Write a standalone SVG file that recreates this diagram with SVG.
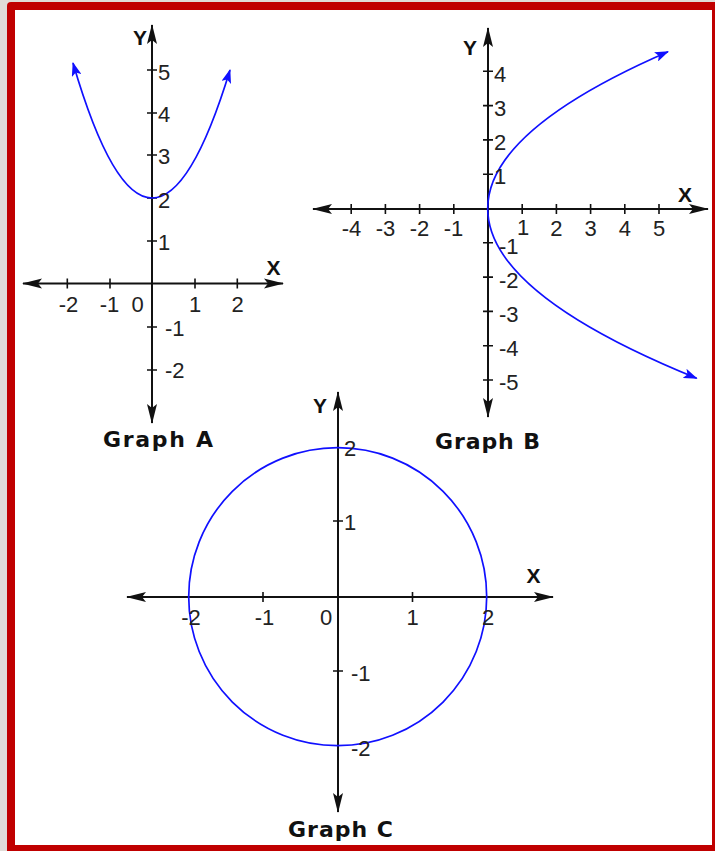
<svg xmlns="http://www.w3.org/2000/svg" width="715" height="851" viewBox="0 0 715 851">
<style>
.ax{stroke:#111;stroke-width:2;fill:none;marker-start:url(#ah);marker-end:url(#ah)}
.tk{stroke:#111;stroke-width:1.6;fill:none}
.cv{stroke:#1010ff;stroke-width:1.7;fill:none}
.n{font-family:"Liberation Sans",Arial,sans-serif;font-size:22px;fill:#222}
.m{text-anchor:middle}
.xy{font-family:"Liberation Sans",Arial,sans-serif;font-size:21px;font-weight:bold;fill:#111;text-anchor:middle}
.t{font-family:"DejaVu Sans",Verdana,sans-serif;font-size:22px;font-weight:bold;fill:#111}
</style>
<defs>
<marker id="ah" viewBox="0 0 20 12" refX="19" refY="6" markerWidth="20" markerHeight="12" markerUnits="userSpaceOnUse" orient="auto-start-reverse">
<path d="M0,1 L20,6 L0,11 L4,6 z" fill="#111"/>
</marker>
<marker id="bh" viewBox="0 0 14 10" refX="13" refY="5" markerWidth="14" markerHeight="10" markerUnits="userSpaceOnUse" orient="auto-start-reverse">
<path d="M0,0 L14,5 L0,10 L3,5 z" fill="#1010ff"/>
</marker>
</defs>
<rect x="0" y="0" width="715" height="851" fill="#e0dcd8"/>
<rect x="7" y="2" width="712" height="853" rx="4" fill="#c00000"/>
<rect x="15" y="10" width="697" height="835" fill="#ffffff"/>

<g id="graphA">
<line class="ax" x1="23" y1="283.5" x2="283" y2="283.5"/>
<line class="ax" x1="152" y1="25" x2="152" y2="423"/>
<path class="tk" d="M67.3,278.5v10M110,278.5v10M195,278.5v10M237.3,278.5v10M147,70h10M147,113h10M147,155h10M147,198h10M147,241h10M147,327h10M147,370h10"/>
<path class="cv" d="M73,63 Q112.5,198 152,198 Q191,198 230,70" marker-start="url(#bh)" marker-end="url(#bh)"/>
<text class="xy" x="140" y="45">Y</text>
<text class="xy" x="273.5" y="275">X</text>
<text class="n" x="158" y="80">5</text>
<text class="n" x="158" y="122">4</text>
<text class="n" x="158" y="164">3</text>
<text class="n" x="158" y="208">2</text>
<text class="n" x="158" y="250">1</text>
<text class="n" x="165" y="336">-1</text>
<text class="n" x="165" y="378">-2</text>
<text class="n m" x="68.5" y="312">-2</text>
<text class="n m" x="109.5" y="312">-1</text>
<text class="n m" x="137.5" y="312">0</text>
<text class="n m" x="195" y="312">1</text>
<text class="n m" x="237.5" y="312">2</text>
<text class="t" x="103" y="447" textLength="110" lengthAdjust="spacing">Graph A</text>
</g>

<g id="graphB">
<line class="ax" x1="313" y1="209" x2="708" y2="209"/>
<line class="ax" x1="488" y1="28" x2="488" y2="417"/>
<path class="tk" d="M351.2,204v10M385.4,204v10M419.6,204v10M453.8,204v10M522.2,204v10M556.4,204v10M590.6,204v10M624.8,204v10M659,204v10M483,71.3h10M483,105.6h10M483,139.9h10M483,174.2h10M483,242.8h10M483,277.1h10M483,311.4h10M483,345.7h10M483,380h10"/>
<path class="cv" d="M668,51.7 Q487.7,130.1 487.7,208.5 Q487.7,293.4 696.7,378.3" marker-start="url(#bh)" marker-end="url(#bh)"/>
<text class="xy" x="470" y="55">Y</text>
<text class="xy" x="685" y="202">X</text>
<text class="n" x="494" y="82">4</text>
<text class="n" x="494" y="116">3</text>
<text class="n" x="494" y="150">2</text>
<text class="n" x="494" y="184">1</text>
<text class="n" x="499" y="254">-1</text>
<text class="n" x="499" y="288">-2</text>
<text class="n" x="499" y="322">-3</text>
<text class="n" x="499" y="356">-4</text>
<text class="n" x="499" y="390">-5</text>
<text class="n m" x="351.5" y="236">-4</text>
<text class="n m" x="385.5" y="236">-3</text>
<text class="n m" x="419.5" y="236">-2</text>
<text class="n m" x="453.5" y="236">-1</text>
<text class="n m" x="523" y="235">1</text>
<text class="n m" x="556.4" y="236">2</text>
<text class="n m" x="590.6" y="236">3</text>
<text class="n m" x="624.8" y="236">4</text>
<text class="n m" x="659" y="236">5</text>
<text class="t" x="435" y="449" textLength="105" lengthAdjust="spacing">Graph B</text>
</g>

<g id="graphC">
<line class="ax" x1="127" y1="597" x2="553" y2="597"/>
<line class="ax" x1="338" y1="392" x2="338" y2="812"/>
<path class="tk" d="M263,592v10M412.5,592v10M333,521h10M333,671h10"/>
<circle class="cv" cx="337.7" cy="596.7" r="149"/>
<text class="xy" x="320" y="413">Y</text>
<text class="xy" x="533.5" y="583">X</text>
<text class="n" x="344" y="456">2</text>
<text class="n" x="344" y="530">1</text>
<text class="n" x="351" y="681">-1</text>
<text class="n" x="351" y="756">-2</text>
<text class="n m" x="191" y="625">-2</text>
<text class="n m" x="264.5" y="625">-1</text>
<text class="n m" x="326" y="625">0</text>
<text class="n m" x="412.5" y="625">1</text>
<text class="n m" x="488" y="625">2</text>
<text class="t" x="288" y="837" textLength="105" lengthAdjust="spacing">Graph C</text>
</g>
</svg>
